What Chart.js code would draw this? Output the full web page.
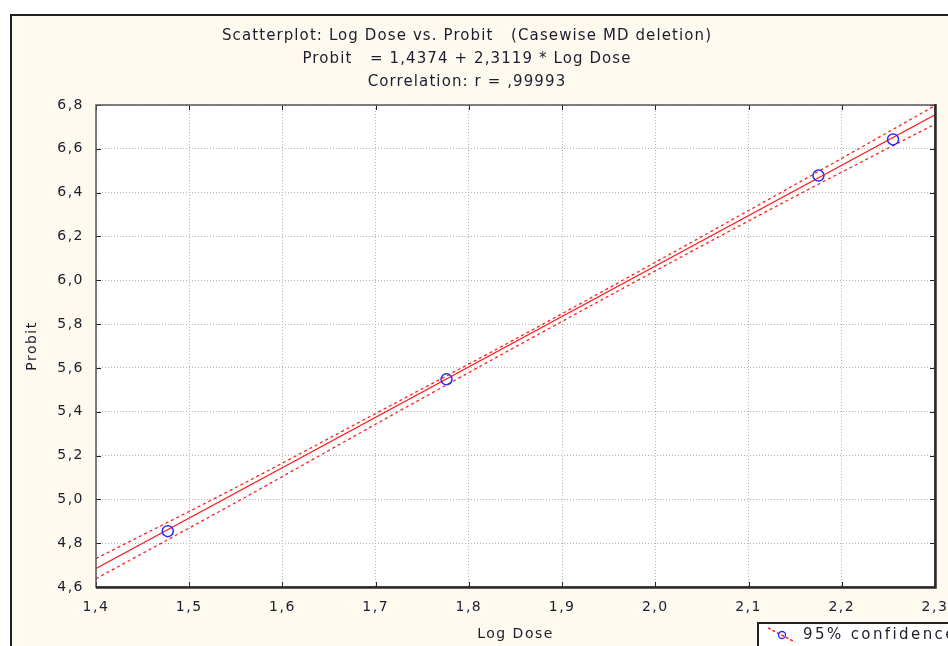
<!DOCTYPE html>
<html><head><meta charset="utf-8">
<script src="https://cdn.jsdelivr.net/npm/chart.js@4"></script>
<style>html,body{margin:0;padding:0;background:#fff;overflow:hidden}</style>
</head><body>
<canvas id="c" width="948" height="646" style="width:948px;height:646px;display:block"></canvas>
<script>
const titleLines = [
  'Scatterplot: Log Dose vs. Probit   (Casewise MD deletion)',
  'Probit   = 1,4374 + 2,3119 * Log Dose',
  'Correlation: r = ,99993'
];
const xAxisTitle = 'Log Dose';
const yAxisTitle = 'Probit';
const legendLabel = '95% confidence';

const xTicks = [1.4, 1.5, 1.6, 1.7, 1.8, 1.9, 2.0, 2.1, 2.2, 2.3];
const xTickLabels = ['1,4', '1,5', '1,6', '1,7', '1,8', '1,9', '2,0', '2,1', '2,2', '2,3'];
const yTicks = [4.6, 4.8, 5.0, 5.2, 5.4, 5.6, 5.8, 6.0, 6.2, 6.4, 6.6, 6.8];
const yTickLabels = ['4,6', '4,8', '5,0', '5,2', '5,4', '5,6', '5,8', '6,0', '6,2', '6,4', '6,6', '6,8'];

const logDose = [1.477, 1.776, 2.175, 2.255];
const probit = [4.855, 5.548, 6.478, 6.643];

const fitX = [1.4, 2.3];
const fitY = [4.685, 6.755];

const bandX = [1.4, 1.55, 1.7, 1.85, 2.0, 2.15, 2.3];
const bandUpper = [4.730, 5.054, 5.392, 5.732, 6.082, 6.437, 6.797];
const bandLower = [4.638, 4.986, 5.343, 5.696, 6.043, 6.383, 6.713];

const RED = '#ff2020';
const BLUE = '#2a2aff';
const INK = '#1c1c2c';
const CREAM = '#fffaf0';
const FONT = "'DejaVu Sans', sans-serif";

const pts = (xs, ys) => xs.map((x, i) => ({x, y: ys[i]}));

const spacing = {
  id: 'spacing',
  beforeUpdate(chart) { chart.ctx.letterSpacing = '1.5px'; },
  beforeDraw(chart) { chart.ctx.letterSpacing = '1.5px'; }
};

const frame = {
  id: 'frame',
  beforeDraw(chart) {
    const ctx = chart.ctx, a = chart.chartArea;
    ctx.save();
    ctx.fillStyle = '#ffffff';
    ctx.fillRect(0, 0, chart.width, chart.height);
    ctx.fillStyle = CREAM;
    ctx.fillRect(10, 14, chart.width, chart.height);
    ctx.strokeStyle = '#202020';
    ctx.lineWidth = 2;
    ctx.beginPath();
    ctx.moveTo(11, chart.height + 5); ctx.lineTo(11, 15); ctx.lineTo(chart.width + 5, 15);
    ctx.stroke();
    ctx.fillStyle = '#ffffff';
    ctx.fillRect(a.left, a.top, a.right - a.left, a.bottom - a.top);
    // main title
    ctx.fillStyle = INK;
    ctx.font = '15px ' + FONT;
    ctx.letterSpacing = '1.1px';
    ctx.textAlign = 'center';
    ctx.textBaseline = 'middle';
    const ys = [36, 59, 82];
    titleLines.forEach((t, i) => ctx.fillText(t, 467, ys[i]));
    ctx.restore();
  },
  afterDraw(chart) {
    const ctx = chart.ctx, a = chart.chartArea;
    const xs = chart.scales.x, yS = chart.scales.y;
    ctx.save();
    ctx.strokeStyle = '#202020';
    ctx.lineWidth = 1;
    ctx.beginPath();
    xTicks.forEach(v => {
      const px = Math.round(xs.getPixelForValue(v)) + 0.5;
      ctx.moveTo(px, a.bottom); ctx.lineTo(px, a.bottom - 5);
      ctx.moveTo(px, a.top); ctx.lineTo(px, a.top + 5);
    });
    yTicks.forEach(v => {
      const py = Math.round(yS.getPixelForValue(v)) + 0.5;
      ctx.moveTo(a.left, py); ctx.lineTo(a.left + 5, py);
      ctx.moveTo(a.right, py); ctx.lineTo(a.right - 5, py);
    });
    ctx.stroke();
    // plot border
    ctx.strokeStyle = '#555555';
    ctx.lineWidth = 1.5;
    ctx.strokeRect(a.left, a.top, a.right - a.left, a.bottom - a.top);
    ctx.strokeStyle = '#2a2a2a';
    ctx.lineWidth = 2.5;
    ctx.beginPath();
    ctx.moveTo(a.left, a.bottom + 0.5); ctx.lineTo(a.right + 0.5, a.bottom + 0.5); ctx.lineTo(a.right + 0.5, a.top - 1);
    ctx.stroke();
    // legend box
    ctx.fillStyle = '#ffffff';
    ctx.fillRect(757, 622, 220, 40);
    ctx.strokeStyle = '#202020';
    ctx.lineWidth = 2;
    ctx.strokeRect(758, 623, 220, 40);
    ctx.strokeStyle = RED;
    ctx.lineWidth = 1.5;
    ctx.setLineDash([3, 2]);
    ctx.beginPath();
    ctx.moveTo(768, 628); ctx.lineTo(795, 642);
    ctx.stroke();
    ctx.setLineDash([]);
    ctx.strokeStyle = BLUE;
    ctx.lineWidth = 1.3;
    ctx.beginPath();
    ctx.arc(782, 635, 3.5, 0, Math.PI * 2);
    ctx.stroke();
    ctx.fillStyle = INK;
    ctx.font = '15px ' + FONT;
    ctx.letterSpacing = '2.4px';
    ctx.textAlign = 'left';
    ctx.textBaseline = 'middle';
    ctx.fillText(legendLabel, 803, 635);
    ctx.restore();
  }
};

new Chart(document.getElementById('c'), {
  type: 'scatter',
  data: {
    datasets: [
      { label: 'data', data: pts(logDose, probit), showLine: false,
        pointStyle: 'circle', pointRadius: 5.5, pointBorderWidth: 1.5,
        pointBorderColor: BLUE, pointBackgroundColor: 'rgba(0,0,0,0)' },
      { label: 'fit', data: pts(fitX, fitY), showLine: true, borderColor: RED,
        borderWidth: 1.2, pointRadius: 0 },
      { label: 'upper', data: pts(bandX, bandUpper), showLine: true, borderColor: RED,
        borderWidth: 1.3, borderDash: [3, 3], pointRadius: 0, cubicInterpolationMode: 'monotone' },
      { label: 'lower', data: pts(bandX, bandLower), showLine: true, borderColor: RED,
        borderWidth: 1.3, borderDash: [3, 3], pointRadius: 0, cubicInterpolationMode: 'monotone' }
    ]
  },
  options: {
    responsive: false,
    animation: false,
    devicePixelRatio: 1,
    layout: { padding: { top: 105, right: 13, left: 0, bottom: 0 } },
    plugins: { legend: { display: false }, title: { display: false }, tooltip: { enabled: false } },
    scales: {
      x: {
        type: 'linear', min: 1.4, max: 2.3,
        afterBuildTicks: s => { s.ticks = xTicks.map(v => ({value: v})); },
        afterFit: s => { s.height = 59; s.paddingLeft = 0; s.paddingRight = 0; },
        ticks: { callback: (v, i) => xTickLabels[i], color: INK, padding: 12,
                 font: { family: FONT, size: 14 }, maxRotation: 0, autoSkip: false },
        grid: { color: '#b4b4b4', lineWidth: 1, drawTicks: false },
        border: { display: false, dash: [1, 2] },
        title: { display: true, text: xAxisTitle, color: INK, font: { family: FONT, size: 14 },
                 padding: { top: 0, bottom: 3.6 } }
      },
      y: {
        type: 'linear', min: 4.6, max: 6.8,
        afterBuildTicks: s => { s.ticks = yTicks.map(v => ({value: v})); },
        afterFit: s => { s.width = 96; s.paddingTop = 0; s.paddingBottom = 0; },
        ticks: { callback: (v, i) => yTickLabels[i], color: INK, padding: 12,
                 font: { family: FONT, size: 14 }, autoSkip: false },
        grid: { color: '#b4b4b4', lineWidth: 1, drawTicks: false },
        border: { display: false, dash: [1, 2] },
        title: { display: true, text: yAxisTitle, color: INK, font: { family: FONT, size: 14 },
                 padding: { top: 23.6, bottom: 0 } }
      }
    }
  },
  plugins: [spacing, frame]
});
</script>
</body></html>
